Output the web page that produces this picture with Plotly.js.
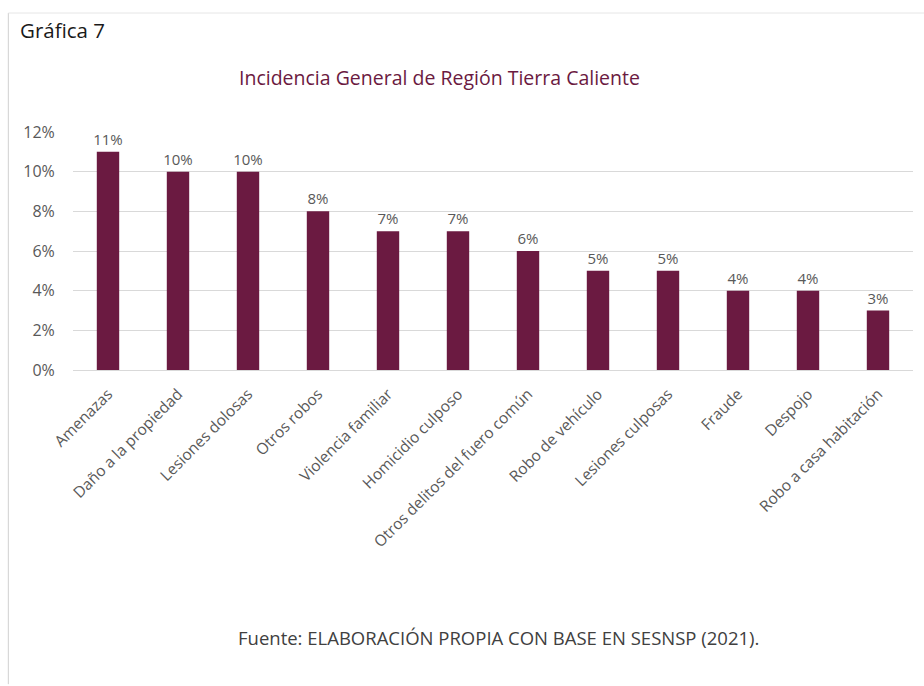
<!DOCTYPE html>
<html>
<head>
<meta charset="utf-8">
<script src="https://cdn.plot.ly/plotly-3.0.1.min.js"></script>
<style>html,body{margin:0;padding:0;background:#fff;}#chart{width:924px;height:686px;}</style>
</head>
<body>
<div id="chart"></div>
<script>
const categories = ["Amenazas","Daño a la propiedad","Lesiones dolosas","Otros robos","Violencia familiar","Homicidio culposo","Otros delitos del fuero común","Robo de vehículo","Lesiones culposas","Fraude","Despojo","Robo a casa habitación"];
const values = [0.11,0.10,0.10,0.08,0.07,0.07,0.06,0.05,0.05,0.04,0.04,0.03];
const yTicks = [0,0.02,0.04,0.06,0.08,0.10,0.12];

const font = "Open Sans, sans-serif";
const trace = {
  type: "bar", x: categories, y: values,
  marker: {color: "#6b1a41"},
  width: 0.32,
  text: values.map(v => Math.round(v*100) + "%"),
  textposition: "outside",
  constraintext: "none",
  textfont: {family: font, size: 15, color: "#595959"},
  cliponaxis: false,
  hoverinfo: "skip"
};
const layout = {
  width: 924, height: 686,
  margin: {l: 73, r: 11, t: 132, b: 316},
  paper_bgcolor: "#fff", plot_bgcolor: "#fff",
  showlegend: false,
  xaxis: {
    tickangle: -45, tickfont: {family: font, size: 15.5, color: "#595959"},
    ticks: "outside", ticklen: 8, tickcolor: "rgba(0,0,0,0)",
    showgrid: false, showline: false, automargin: false
  },
  yaxis: {
    range: [0, 0.12], tickvals: yTicks, tickformat: ".0%",
    tickfont: {family: font, size: 16, color: "#595959"},
    gridcolor: "#d9d9d9", gridwidth: 1, zeroline: true, zerolinecolor: "#d9d9d9",
    showline: false, ticks: "outside", ticklen: 14, tickcolor: "rgba(0,0,0,0)", automargin: false
  },
  annotations: [
    {xref: "paper", yref: "paper", x: -0.066, y: 1.43, xanchor: "left", yanchor: "middle",
     text: "Gráfica 7", showarrow: false, font: {family: font, size: 20.5, color: "#1a1a1a"}},
    {xref: "paper", yref: "paper", x: 0.436, y: 1.228, xanchor: "center", yanchor: "middle",
     text: "Incidencia General de Región Tierra Caliente", showarrow: false,
     font: {family: font, size: 19.5, color: "#6b1a41"}},
    {xref: "paper", yref: "paper", x: 0.506, y: -1.126, xanchor: "center", yanchor: "middle",
     text: "Fuente: ELABORACIÓN PROPIA CON BASE EN SESNSP (2021).", showarrow: false,
     font: {family: font, size: 18.5, color: "#404040"}}
  ],
  shapes: [
    {type: "line", xref: "paper", yref: "paper", x0: -0.077, x1: -0.077, y0: 1.5, y1: -1.32,
     line: {color: "#d0d0d0", width: 1}},
    {type: "line", xref: "paper", yref: "paper", x0: -0.077, x1: 1.02, y0: 1.5, y1: 1.5,
     line: {color: "#e6e6e6", width: 1}}
  ]
};
Plotly.newPlot("chart", [trace], layout, {displayModeBar: false, staticPlot: true});
</script>
</body>
</html>
